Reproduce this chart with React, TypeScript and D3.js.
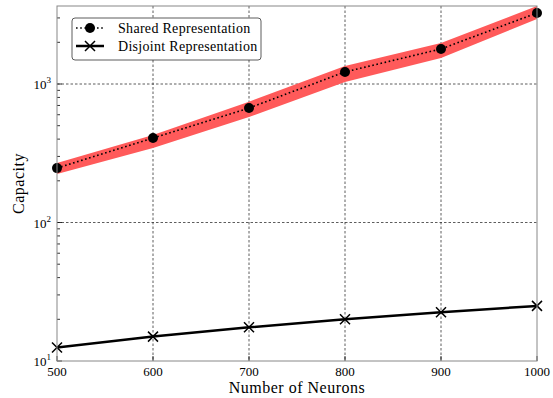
import React from "react";
import * as d3 from "d3";

const neurons = [500, 600, 700, 800, 900, 1000];
const sharedMean = [247, 407, 671, 1222, 1791, 3260];
const sharedLower = [224, 345, 578, 1033, 1541, 2944];
const sharedUpper = [269, 428, 745, 1349, 1977, 3656];
const disjoint = [12.5, 15, 17.5, 20, 22.5, 25];
const xTicks = [500, 600, 700, 800, 900, 1000];
const yMajor = [10, 100, 1000];
const legendLabels = ["Shared Representation", "Disjoint Representation"];

const W = 553, H = 398;
const M = { left: 57, right: 537, top: 6, bottom: 361 };
const FONT = "'Liberation Serif', 'DejaVu Serif', serif";

export default function App() {
  const x = d3.scaleLinear().domain([500, 1000]).range([M.left, M.right]);
  const y = d3.scaleLog().domain([10, 3658]).range([M.bottom, M.top]);

  const minor: number[] = [];
  [10, 100, 1000].forEach((d) => {
    for (let k = 2; k <= 9; k++) {
      const v = d * k;
      if (v < 3658) minor.push(v);
    }
  });

  const area = d3
    .area<number>()
    .x((_, i) => x(neurons[i]))
    .y0((_, i) => y(sharedLower[i]))
    .y1((_, i) => y(sharedUpper[i]));
  const line = d3
    .line<number>()
    .x((_, i) => x(neurons[i]))
    .y((d) => y(d));

  const gridStyle = { stroke: "#333", strokeWidth: 0.8, strokeDasharray: "2.5,2" };
  const cross = (cx: number, cy: number, s: number, key?: string) => (
    <path
      key={key}
      d={`M${cx - s},${cy - s}L${cx + s},${cy + s}M${cx - s},${cy + s}L${cx + s},${cy - s}`}
      stroke="#000"
      strokeWidth={1.5}
      fill="none"
    />
  );

  return (
    <svg width={W} height={H} style={{ position: "absolute", left: 0, top: 0 }} fontFamily={FONT}>
      <defs>
        <clipPath id="plotclip">
          <rect x={M.left} y={M.top} width={M.right - M.left} height={M.bottom - M.top} />
        </clipPath>
      </defs>
      <rect x={0} y={0} width={W} height={H} fill="#fff" />
      {/* grid */}
      {xTicks.slice(1, -1).map((t) => (
        <line key={"gx" + t} x1={x(t)} x2={x(t)} y1={M.top} y2={M.bottom} {...gridStyle} />
      ))}
      {yMajor.slice(1).map((t) => (
        <line key={"gy" + t} x1={M.left} x2={M.right} y1={y(t)} y2={y(t)} {...gridStyle} />
      ))}
      {/* ticks */}
      {minor.map((t) => (
        <line key={"mt" + t} x1={M.left} x2={M.left + 3} y1={y(t)} y2={y(t)} stroke="#000" strokeWidth={0.8} />
      ))}
      {yMajor.map((t) => (
        <line key={"Mt" + t} x1={M.left} x2={M.left + 5} y1={y(t)} y2={y(t)} stroke="#000" strokeWidth={0.8} />
      ))}
      {xTicks.map((t) => (
        <line key={"xt" + t} x1={x(t)} x2={x(t)} y1={M.bottom} y2={M.bottom - 5} stroke="#000" strokeWidth={0.8} />
      ))}
      <g clipPath="url(#plotclip)">
        <path d={area(sharedMean) || ""} fill="#ff5a5a" stroke="none" />
        <path d={line(sharedMean) || ""} fill="none" stroke="#000" strokeWidth={1.6} strokeDasharray="1.6,2.6" />
        <path d={line(disjoint) || ""} fill="none" stroke="#000" strokeWidth={2.5} />
      </g>
      {sharedMean.map((v, i) => (
        <circle key={"c" + i} cx={x(neurons[i])} cy={y(v)} r={5} fill="#000" />
      ))}
      {disjoint.map((v, i) => cross(x(neurons[i]), y(v), 5, "x" + i))}
      {/* spines */}
      <rect x={M.left} y={M.top} width={M.right - M.left} height={M.bottom - M.top} fill="none" stroke="#888" strokeWidth={1} />
      {/* tick labels */}
      {xTicks.map((t) => (
        <text key={"xl" + t} x={x(t)} y={376} textAnchor="middle" fontSize={13}>
          {t}
        </text>
      ))}
      {yMajor.map((t) => (
        <text key={"yl" + t} x={51} y={y(t) + 5} textAnchor="end" fontSize={13}>
          10
          <tspan dy={-6} fontSize={9}>
            {Math.round(Math.log10(t))}
          </tspan>
        </text>
      ))}
      <text x={(M.left + M.right) / 2} y={393} textAnchor="middle" fontSize={16} letterSpacing={0.5}>
        Number of Neurons
      </text>
      <text transform={`translate(24,${(M.top + M.bottom) / 2}) rotate(-90)`} textAnchor="middle" fontSize={16} letterSpacing={0.5}>
        Capacity
      </text>
      {/* legend */}
      <rect x={72} y={18} width={189} height={42} rx={3} fill="#fff" stroke="#333" strokeWidth={0.8} />
      <line x1={76} x2={104} y1={28} y2={28} stroke="#000" strokeWidth={1.6} strokeDasharray="1.6,2.6" />
      <circle cx={90} cy={28} r={5} fill="#000" />
      <line x1={76} x2={104} y1={46} y2={46} stroke="#000" strokeWidth={2.5} />
      {cross(90, 46, 5)}
      {legendLabels.map((l, i) => (
        <text key={l} x={118} y={32.5 + i * 18} fontSize={14} letterSpacing={0.3}>
          {l}
        </text>
      ))}
    </svg>
  );
}
